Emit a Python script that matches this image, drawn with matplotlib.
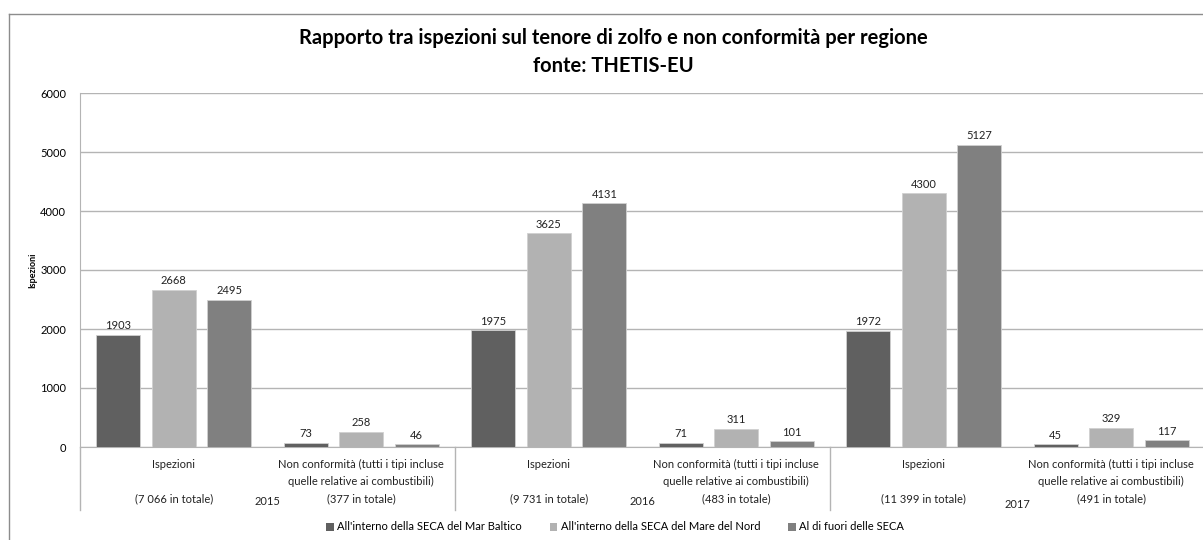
import matplotlib.pyplot as plt
from matplotlib.lines import Line2D
from matplotlib.patches import Patch
import matplotlib.transforms as mtransforms
import numpy as np

plt.rcParams['font.family'] = ['Lato', 'DejaVu Sans']

years = ["2015", "2016", "2017"]
categories = ["Ispezioni",
              "Non conformità (tutti i tipi incluse\nquelle relative ai combustibili)"] * 3
totals = ["(7 066 in totale)", "(377 in totale)",
          "(9 731 in totale)", "(483 in totale)",
          "(11 399 in totale)", "(491 in totale)"]
series_names = ["All'interno della SECA del Mar Baltico",
                "All'interno della SECA del Mare del Nord",
                "Al di fuori delle SECA"]
baltico = [1903, 73, 1975, 71, 1972, 45]
mare_nord = [2668, 258, 3625, 311, 4300, 329]
fuori = [2495, 46, 4131, 101, 5127, 117]
colors = ["#606060", "#b2b2b2", "#808080"]

fig = plt.figure(figsize=(12.03, 5.40), dpi=100)
ax = fig.add_axes([80 / 1203, 93 / 540, 1125 / 1203, 354 / 540])

x = np.arange(len(categories))
width = 0.235
step = 0.296
for i, (vals, c) in enumerate(zip([baltico, mare_nord, fuori], colors)):
    pos = x + (i - 1) * step
    ax.bar(pos, vals, width, color=c, edgecolor="#d0d0d0", linewidth=0.6, zorder=3)
    for px, v in zip(pos, vals):
        ax.text(px, v + 60, str(v), ha="center", va="bottom", fontsize=8, color="#222222")

ax.set_xlim(-0.5, 5.5)
ax.set_ylim(0, 6000)
ax.set_yticks(range(0, 6001, 1000))
ax.tick_params(axis="y", length=0, labelsize=8, pad=10)
ax.set_xticks([])
ax.grid(axis="y", color="#b4b4b4", linewidth=1, zorder=0)
for s in ["top", "right"]:
    ax.spines[s].set_visible(False)
ax.spines["left"].set_color("#b4b4b4")
ax.spines["bottom"].set_color("#b4b4b4")

# category labels, totals, year labels under the axis
trans = mtransforms.blended_transform_factory(ax.transData, ax.transAxes)
for xi, (cat, tot) in enumerate(zip(categories, totals)):
    ax.text(xi, -0.035, cat, transform=trans, ha="center", va="top",
            fontsize=8, color="#222222", linespacing=1.6)
    ax.text(xi, -0.145, tot, transform=trans, ha="center", va="center",
            fontsize=8, color="#222222")
for j, yr in enumerate(years):
    yy = -0.155 if j < 2 else -0.163
    ax.text(2 * j + 0.5, yy, yr, transform=trans, ha="center", va="center",
            fontsize=8, color="#222222")
for sep in [-0.5, 1.5, 3.5, 5.5]:
    ax.plot([sep, sep], [0, -0.178], transform=trans, color="#b4b4b4",
            linewidth=1, clip_on=False)

fig.text(33 / 1203, 1 - 270 / 540, "Ispezioni", rotation=90, ha="center",
         va="center", fontsize=6.5, fontweight="bold")

fig.text(613 / 1203, 1 - 52 / 540,
         "Rapporto tra ispezioni sul tenore di zolfo e non conformità per regione\nfonte: THETIS-EU",
         ha="center", va="center", fontsize=14.5, fontweight="bold", linespacing=1.45)

# outer chart border
fig.add_artist(Line2D([9 / 1203, 9 / 1203], [0, 1 - 14 / 540],
                      transform=fig.transFigure, color="#8c8c8c", linewidth=1))
fig.add_artist(Line2D([9 / 1203, 1], [1 - 14 / 540, 1 - 14 / 540],
                      transform=fig.transFigure, color="#8c8c8c", linewidth=1))

handles = [Patch(facecolor=c, edgecolor="none") for c in colors]
fig.legend(handles, series_names, loc="center", bbox_to_anchor=(615 / 1203, 1 - 527 / 540),
           ncol=3, frameon=False, fontsize=8, handlelength=0.7, handleheight=0.7,
           handletextpad=0.3, columnspacing=2.5)

fig.savefig("out.png", dpi=100)
